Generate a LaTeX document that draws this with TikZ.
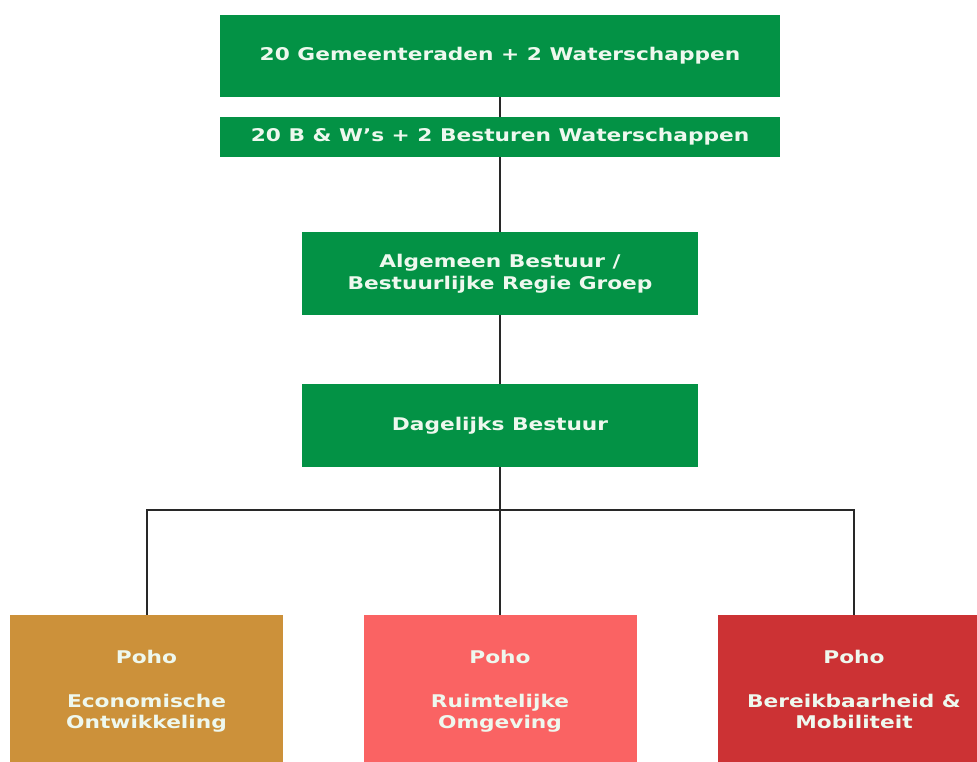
\documentclass[tikz,border=0pt]{standalone}
\usepackage{fontspec}
\setmainfont{DejaVu Sans}
\newfontfamily\widefont[FakeStretch=1.24]{DejaVu Sans}
\definecolor{grn}{RGB}{3,146,69}
\definecolor{gold}{RGB}{204,145,58}
\definecolor{pink}{RGB}{250,99,99}
\definecolor{crim}{RGB}{204,50,52}
\definecolor{txt}{RGB}{238,248,238}
\definecolor{ln}{RGB}{40,40,40}
\begin{document}
\begin{tikzpicture}[x=1pt,y=-1pt,
  gbox/.style={rectangle,fill=grn,text=txt,font=\widefont\fontsize{17.5}{22}\selectfont\bfseries,align=center,inner sep=0pt},
  pbox/.style={rectangle,text=txt,font=\widefont\fontsize{17.5}{21}\selectfont\bfseries,align=center,inner sep=0pt,minimum width=273pt,minimum height=155pt},
  conn/.style={draw=ln,line width=2pt}]
\clip (0,0) rectangle (977,762);
\fill[white] (0,0) rectangle (977,762);
\node[gbox,minimum width=560pt,minimum height=82pt] (top) at (500,56) {20 Gemeenteraden + 2 Waterschappen};
\node[gbox,minimum width=560pt,minimum height=40pt] (bw) at (500,137) {20 B \& W’s + 2 Besturen Waterschappen};
\node[gbox,minimum width=396pt,minimum height=83pt] (ab) at (500,273.5) {Algemeen Bestuur /\\Bestuurlijke Regie Groep};
\node[gbox,minimum width=396pt,minimum height=83pt] (db) at (500,425.5) {Dagelijks Bestuur};
\node[pbox,fill=gold] (eo) at (146.5,692.5) {Poho\\[23pt]Economische\\Ontwikkeling\strut};
\node[pbox,fill=pink] (ro) at (500,692.5) {Poho\\[23pt]Ruimtelijke\\Omgeving\strut};
\node[pbox,fill=crim] (bm) at (854,692.5) {Poho\\[23pt]Bereikbaarheid \&\\Mobiliteit\strut};
\coordinate (hub) at (500,510);
\draw[conn] (top.south) -- (bw.north);
\draw[conn] (bw.south) -- (ab.north);
\draw[conn] (ab.south) -- (db.north);
\draw[conn] (db.south) -- (hub);
\draw[conn] (hub) -| (eo.north);
\draw[conn] (hub) -| (bm.north);
\draw[conn] (hub) -- (ro.north);
\end{tikzpicture}
\end{document}
